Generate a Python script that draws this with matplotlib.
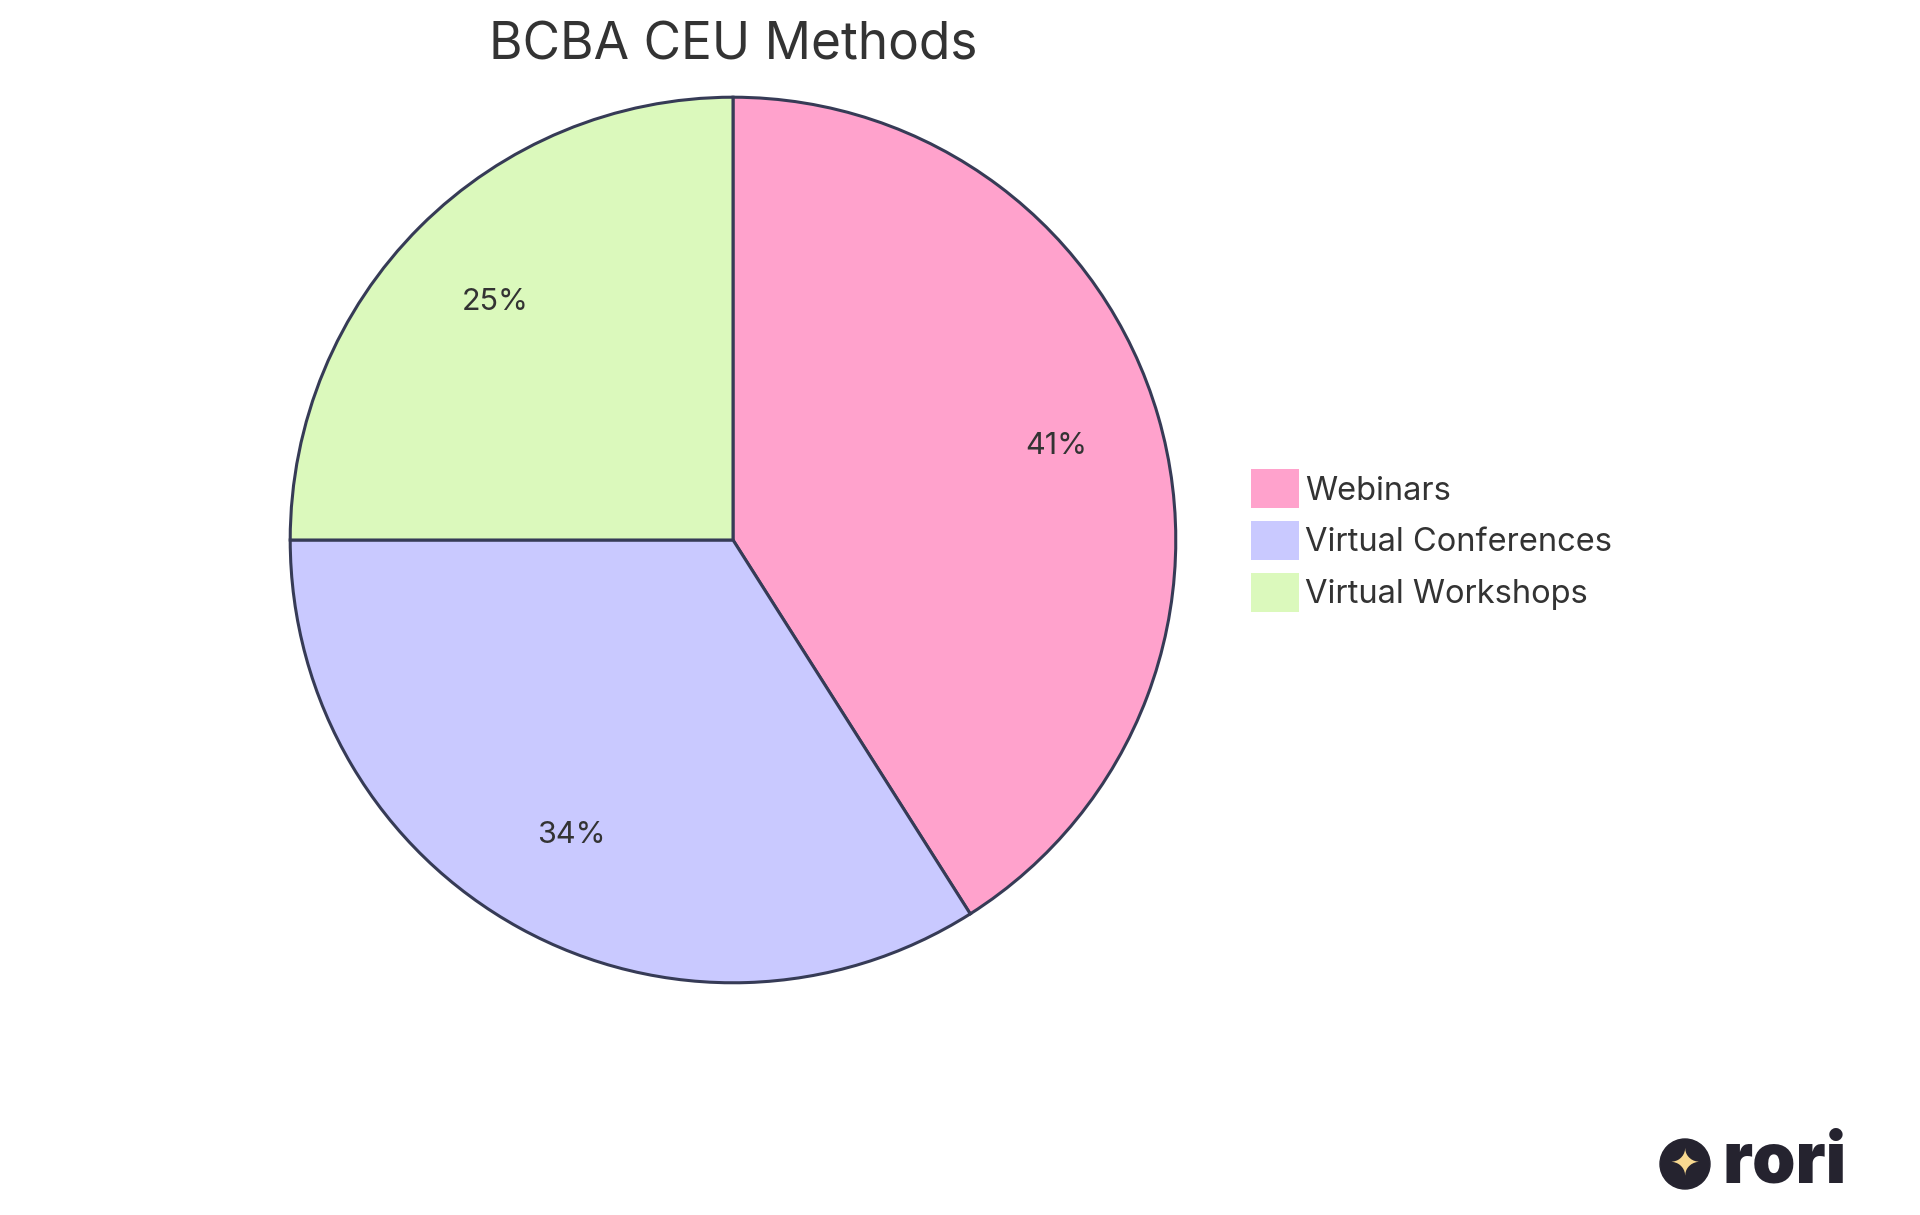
import matplotlib
matplotlib.use('Agg')
import matplotlib.pyplot as plt
from matplotlib.patches import Patch, Circle

labels = ['Webinars', 'Virtual Conferences', 'Virtual Workshops']
values = [41, 34, 25]
colors = ['#ffa2cc', '#c9c9ff', '#dbf9bc']
edge = '#363b56'
text_color = '#333333'

plt.rcParams['font.family'] = ['Inter', 'DejaVu Sans']

fig = plt.figure(figsize=(19.2, 12.15), dpi=100)
# pie centre ~ (733, 540), radius ~445 px
ax = fig.add_axes([(733 - 445) / 1920, 1 - (540 + 445) / 1215, 890 / 1920, 890 / 1215])
ax.pie(values, colors=colors, startangle=90, counterclock=False,
       autopct='%1.0f%%', pctdistance=0.76,
       wedgeprops=dict(edgecolor=edge, linewidth=2.2),
       textprops=dict(fontsize=22, color=text_color))
ax.set_aspect('equal')
ax.set_xlim(-1.005, 1.005)
ax.set_ylim(-1.005, 1.005)

fig.text(733 / 1920, 1 - 46 / 1215, 'BCBA CEU Methods', ha='center', va='center',
         fontsize=37, color=text_color)

handles = [Patch(facecolor=c, edgecolor='none') for c in colors]
fig.legend(handles, labels, loc='upper left', bbox_to_anchor=(1222 / 1920, 1 - 440 / 1215),
           frameon=False, fontsize=23.5, handlelength=1.45, handleheight=1.45,
           handletextpad=0.2, labelspacing=0.4, labelcolor=text_color)

# logo
lax = fig.add_axes([1650 / 1920, 1 - 1200 / 1215, 220 / 1920, 80 / 1215])
lax.set_xlim(0, 220)
lax.set_ylim(0, 80)
lax.set_aspect('equal')
lax.axis('off')
lax.add_patch(Circle((35, 36), 25, color='#25232f'))
lax.text(35, 36, '✦', ha='center', va='center', fontsize=26, color='#f7d890',
         family='DejaVu Sans')
lax.text(72, 36, 'rori', ha='left', va='center', fontsize=50, fontweight='black',
         color='#25232f')

fig.savefig('out.png', dpi=100, facecolor='white')
